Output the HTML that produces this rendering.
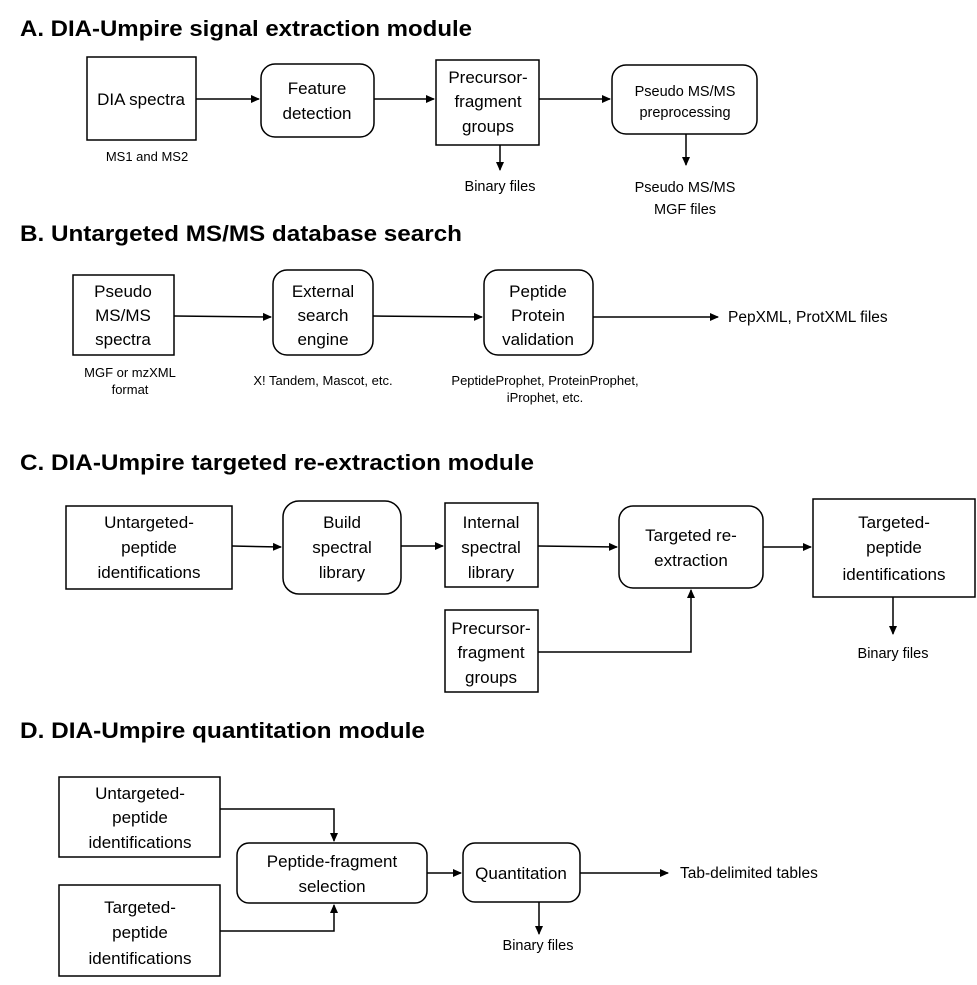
<!DOCTYPE html>
<html><head><meta charset="utf-8"><style>
html,body{margin:0;padding:0;background:#fff;}
svg{display:block;}
text{font-family:"Liberation Sans",sans-serif;fill:#000;}
.t{font-size:22px;font-weight:bold;}
.b{font-size:17px;text-anchor:middle;}
.s{font-size:13px;text-anchor:middle;}
.l{font-size:15.5px;}
rect{fill:#fff;stroke:#000;stroke-width:1.5;}
line,polyline{stroke:#000;stroke-width:1.5;fill:none;}
</style></head><body>
<svg width="977" height="985" viewBox="0 0 977 985" xmlns="http://www.w3.org/2000/svg">
<defs><marker id="a" markerWidth="10" markerHeight="10" refX="8" refY="5" orient="auto" markerUnits="userSpaceOnUse"><path d="M0,1 L9,5 L0,9 z" fill="#000"/></marker></defs>

<!-- A -->
<text class="t" x="20" y="36" textLength="452" lengthAdjust="spacingAndGlyphs">A. DIA-Umpire signal extraction module</text>
<rect x="87" y="57" width="109" height="83"/>
<text class="b" x="141" y="105">DIA spectra</text>
<text class="s" x="147" y="161">MS1 and MS2</text>
<line x1="196" y1="99" x2="259" y2="99" marker-end="url(#a)"/>
<rect x="261" y="64" width="113" height="73" rx="14"/>
<text class="b" x="317" y="94">Feature</text><text class="b" x="317" y="119">detection</text>
<line x1="374" y1="99" x2="434" y2="99" marker-end="url(#a)"/>
<rect x="436" y="60" width="103" height="85"/>
<text class="b" x="488" y="83">Precursor-</text><text class="b" x="488" y="107">fragment</text><text class="b" x="488" y="132">groups</text>
<line x1="539" y1="99" x2="610" y2="99" marker-end="url(#a)"/>
<rect x="612" y="65" width="145" height="69" rx="14"/>
<text class="s" x="685" y="96" style="font-size:14.5px">Pseudo MS/MS</text><text class="s" x="685" y="117" style="font-size:14.5px">preprocessing</text>
<line x1="500" y1="145" x2="500" y2="170" marker-end="url(#a)"/>
<text class="s" x="500" y="191" style="font-size:14.5px">Binary files</text>
<line x1="686" y1="134" x2="686" y2="165" marker-end="url(#a)"/>
<text class="s" x="685" y="192" style="font-size:14.5px">Pseudo MS/MS</text><text class="s" x="685" y="214" style="font-size:14.5px">MGF files</text>

<!-- B -->
<text class="t" x="20" y="241" textLength="442" lengthAdjust="spacingAndGlyphs">B. Untargeted MS/MS database search</text>
<rect x="73" y="275" width="101" height="80"/>
<text class="b" x="123" y="297">Pseudo</text><text class="b" x="123" y="321">MS/MS</text><text class="b" x="123" y="345">spectra</text>
<text class="s" x="130" y="377">MGF or mzXML</text><text class="s" x="130" y="394">format</text>
<line x1="174" y1="316" x2="271" y2="317" marker-end="url(#a)"/>
<rect x="273" y="270" width="100" height="85" rx="14"/>
<text class="b" x="323" y="297">External</text><text class="b" x="323" y="321">search</text><text class="b" x="323" y="345">engine</text>
<text class="s" x="323" y="385">X! Tandem, Mascot, etc.</text>
<line x1="373" y1="316" x2="482" y2="317" marker-end="url(#a)"/>
<rect x="484" y="270" width="109" height="85" rx="14"/>
<text class="b" x="538" y="297">Peptide</text><text class="b" x="538" y="321">Protein</text><text class="b" x="538" y="345">validation</text>
<text class="s" x="545" y="385">PeptideProphet, ProteinProphet,</text><text class="s" x="545" y="402">iProphet, etc.</text>
<line x1="593" y1="317" x2="718" y2="317" marker-end="url(#a)"/>
<text class="l" x="728" y="322">PepXML, ProtXML files</text>

<!-- C -->
<text class="t" x="20" y="470" textLength="514" lengthAdjust="spacingAndGlyphs">C. DIA-Umpire targeted re-extraction module</text>
<rect x="66" y="506" width="166" height="83"/>
<text class="b" x="149" y="528">Untargeted-</text><text class="b" x="149" y="553">peptide</text><text class="b" x="149" y="578">identifications</text>
<line x1="232" y1="546" x2="281" y2="547" marker-end="url(#a)"/>
<rect x="283" y="501" width="118" height="93" rx="16"/>
<text class="b" x="342" y="528">Build</text><text class="b" x="342" y="553">spectral</text><text class="b" x="342" y="578">library</text>
<line x1="401" y1="546" x2="443" y2="546" marker-end="url(#a)"/>
<rect x="445" y="503" width="93" height="84"/>
<text class="b" x="491" y="528">Internal</text><text class="b" x="491" y="553">spectral</text><text class="b" x="491" y="578">library</text>
<line x1="538" y1="546" x2="617" y2="547" marker-end="url(#a)"/>
<rect x="619" y="506" width="144" height="82" rx="14"/>
<text class="b" x="691" y="541">Targeted re-</text><text class="b" x="691" y="566">extraction</text>
<line x1="763" y1="547" x2="811" y2="547" marker-end="url(#a)"/>
<rect x="813" y="499" width="162" height="98"/>
<text class="b" x="894" y="528">Targeted-</text><text class="b" x="894" y="553">peptide</text><text class="b" x="894" y="580">identifications</text>
<rect x="445" y="610" width="93" height="82"/>
<text class="b" x="491" y="634">Precursor-</text><text class="b" x="491" y="658">fragment</text><text class="b" x="491" y="683">groups</text>
<polyline points="538,652 691,652 691,590" marker-end="url(#a)"/>
<line x1="893" y1="597" x2="893" y2="634" marker-end="url(#a)"/>
<text class="s" x="893" y="658" style="font-size:14.5px">Binary files</text>

<!-- D -->
<text class="t" x="20" y="738" textLength="405" lengthAdjust="spacingAndGlyphs">D. DIA-Umpire quantitation module</text>
<rect x="59" y="777" width="161" height="80"/>
<text class="b" x="140" y="799">Untargeted-</text><text class="b" x="140" y="823">peptide</text><text class="b" x="140" y="848">identifications</text>
<rect x="59" y="885" width="161" height="91"/>
<text class="b" x="140" y="913">Targeted-</text><text class="b" x="140" y="938">peptide</text><text class="b" x="140" y="964">identifications</text>
<polyline points="220,809 334,809 334,841" marker-end="url(#a)"/>
<polyline points="220,931 334,931 334,905" marker-end="url(#a)"/>
<rect x="237" y="843" width="190" height="60" rx="12"/>
<text class="b" x="332" y="867">Peptide-fragment</text><text class="b" x="332" y="892">selection</text>
<line x1="427" y1="873" x2="461" y2="873" marker-end="url(#a)"/>
<rect x="463" y="843" width="117" height="59" rx="12"/>
<text class="b" x="521" y="879">Quantitation</text>
<line x1="580" y1="873" x2="668" y2="873" marker-end="url(#a)"/>
<text class="l" x="680" y="878">Tab-delimited tables</text>
<line x1="539" y1="902" x2="539" y2="934" marker-end="url(#a)"/>
<text class="s" x="538" y="950" style="font-size:14.5px">Binary files</text>
</svg>
</body></html>
